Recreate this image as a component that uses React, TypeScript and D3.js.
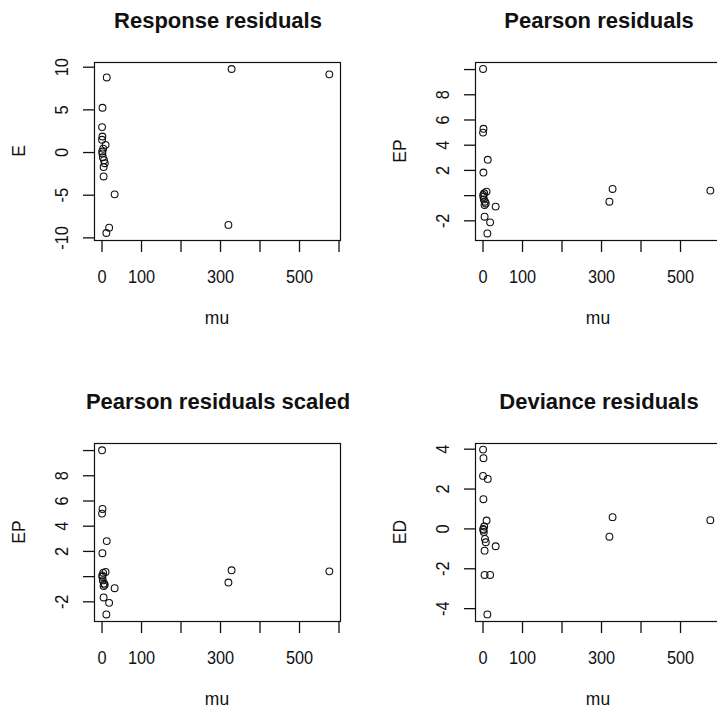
import React from 'react';
import * as d3 from 'd3';

// Fitted means and the four kinds of residuals for each observation
const mu = [0.1, 1.2, 0.1, 12, 1.0, 9, 3, 0.5, 1, 2, 5, 7, 4, 4, 32, 18, 11, 328, 575.5, 320];
const responseRes = [2.98, 5.25, 1.49, 8.8, 1.88, 0.9, 0.45, 0.12, -0.1, -0.55, -0.9, -1.25, -1.7, -2.8, -4.9, -8.8, -9.43, 9.79, 9.16, -8.48];
const pearsonRes = [10.05, 5.3, 5.0, 2.84, 1.83, 0.32, 0.19, 0.05, -0.08, -0.3, -0.48, -0.62, -0.74, -1.67, -0.87, -2.12, -3.0, 0.53, 0.4, -0.48];
const pearsonScaledRes = [10.02, 5.37, 5.0, 2.82, 1.86, 0.37, 0.3, 0.1, 0.0, -0.3, -0.55, -0.65, -0.75, -1.65, -0.92, -2.08, -3.0, 0.5, 0.42, -0.47];
const devianceRes = [3.98, 3.55, 2.66, 2.51, 1.49, 0.42, 0.12, 0.0, -0.05, -0.15, -0.5, -0.67, -1.09, -2.31, -0.87, -2.31, -4.29, 0.59, 0.44, -0.39];

// Axis ticks; empty labels are ticks whose text is skipped to avoid crowding
const xTicks = [0, 100, 200, 300, 400, 500, 600];
const xTickLabels = ['0', '100', '', '300', '', '500', ''];
const yTicksResponse = [-10, -5, 0, 5, 10];
const yLabelsResponse = ['-10', '-5', '0', '5', '10'];
const yTicksPearson = [-2, 0, 2, 4, 6, 8, 10];
const yLabelsPearson = ['-2', '', '2', '4', '6', '8', ''];
const yTicksDeviance = [-4, -2, 0, 2, 4];
const yLabelsDeviance = ['-4', '-2', '0', '2', '4'];

const xDomain: [number, number] = [-20.3, 602.5];

const panels = [
  { title: 'Response residuals', ylab: 'E', values: responseRes, yDomain: [-10.25, 10.61], yTicks: yTicksResponse, yLabels: yLabelsResponse, col: 0, row: 0 },
  { title: 'Pearson residuals', ylab: 'EP', values: pearsonRes, yDomain: [-3.52, 10.6], yTicks: yTicksPearson, yLabels: yLabelsPearson, col: 1, row: 0 },
  { title: 'Pearson residuals scaled', ylab: 'EP', values: pearsonScaledRes, yDomain: [-3.52, 10.6], yTicks: yTicksPearson, yLabels: yLabelsPearson, col: 0, row: 1 },
  { title: 'Deviance residuals', ylab: 'ED', values: devianceRes, yDomain: [-4.62, 4.31], yTicks: yTicksDeviance, yLabels: yLabelsDeviance, col: 1, row: 1 },
];

const CELL = 381;
const BOX = { left: 94, right: 340, top: 62, bottom: 240 };
const FONT = "'Liberation Sans', Arial, sans-serif";
const TICK_LEN = 12;

function Label({ x, y, text, rotate = 0, size = 19, sx = 0.86, bold = false }: any) {
  return (
    <text
      transform={`translate(${x},${y}) rotate(${rotate}) scale(${sx},1)`}
      textAnchor="middle"
      fontFamily={FONT}
      fontSize={size}
      fontWeight={bold ? 'bold' : 'normal'}
      fill="#111"
    >
      {text}
    </text>
  );
}

function Panel({ p }: any) {
  const x = d3.scaleLinear().domain(xDomain).range([BOX.left, BOX.right]);
  const y = d3.scaleLinear().domain(p.yDomain).range([BOX.bottom, BOX.top]);
  const cx = (BOX.left + BOX.right) / 2;
  const cy = (BOX.top + BOX.bottom) / 2;
  return (
    <g transform={`translate(${p.col * CELL},${p.row * CELL})`}>
      <Label x={cx + 1} y={28} text={p.title} size={22} sx={1} bold />
      <rect x={BOX.left + 0.5} y={BOX.top + 0.5} width={BOX.right - BOX.left} height={BOX.bottom - BOX.top} fill="none" stroke="#111" strokeWidth={1.2} />
      {/* x axis */}
      {xTicks.map((t, i) => (
        <g key={'x' + t}>
          <line x1={x(t)} x2={x(t)} y1={BOX.bottom + 1} y2={BOX.bottom + TICK_LEN} stroke="#111" strokeWidth={1.3} />
          {xTickLabels[i] && <Label x={x(t)} y={283} text={xTickLabels[i]} />}
        </g>
      ))}
      <Label x={cx} y={324} text="mu" sx={0.92} />
      {/* y axis */}
      {p.yTicks.map((t: number, i: number) => (
        <g key={'y' + t}>
          <line x1={BOX.left - TICK_LEN + 1} x2={BOX.left} y1={y(t)} y2={y(t)} stroke="#111" strokeWidth={1.3} />
          {p.yLabels[i] && <Label x={68} y={y(t)} text={p.yLabels[i]} rotate={-90} />}
        </g>
      ))}
      <Label x={25} y={cy} text={p.ylab} rotate={-90} sx={0.92} />
      {/* points */}
      {mu.map((m, i) => (
        <circle key={i} cx={x(m)} cy={y(p.values[i])} r={3.4} fill="none" stroke="#111" strokeWidth={1.1} />
      ))}
    </g>
  );
}

export default function App() {
  return (
    <svg
      width={717}
      height={709}
      style={{ position: 'absolute', left: 0, top: 0, background: '#fff' }}
    >
      <rect width={717} height={709} fill="#fff" />
      {panels.map((p) => (
        <Panel key={p.title} p={p} />
      ))}
    </svg>
  );
}
